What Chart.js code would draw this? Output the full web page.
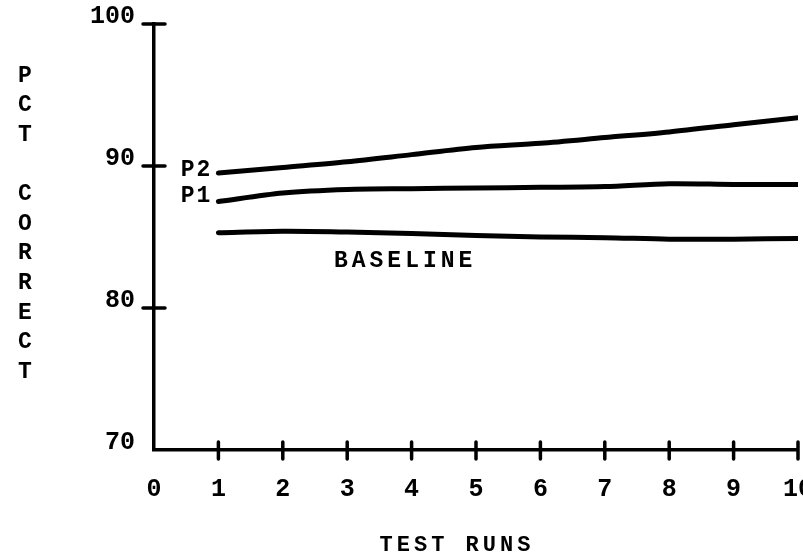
<!DOCTYPE html>
<html>
<head>
<meta charset="utf-8">
<script src="https://cdn.jsdelivr.net/npm/chart.js@4.4.1/dist/chart.umd.min.js"></script>
<style>
    html, body { margin: 0; padding: 0; background: #fff; }
    #wrap { width: 803px; height: 558px; position: relative; }
</style>
</head>
<body>
<div id="wrap"><canvas id="pctChart"></canvas></div>
<script>
// data
const runs = [1, 2, 3, 4, 5, 6, 7, 8, 9, 10];
const p2 = [89.5, 89.9, 90.3, 90.8, 91.3, 91.6, 92.0, 92.4, 92.9, 93.4];
const p1 = [87.5, 88.1, 88.35, 88.4, 88.45, 88.5, 88.55, 88.75, 88.7, 88.7];
const baseline = [85.3, 85.4, 85.35, 85.25, 85.1, 85.0, 84.95, 84.85, 84.85, 84.9];
const seriesNames = ['P2', 'P1', 'BASELINE'];

const xTickLabels = [0, 1, 2, 3, 4, 5, 6, 7, 8, 9, 10];
const yTickLabels = [70, 80, 90, 100];
const xTitle = 'TEST RUNS';
const yTitle = 'PCT CORRECT';

const typeFont = '"Liberation Mono", "Courier New", monospace';

const toPoints = vals => runs.map((r, i) => ({ x: r, y: vals[i] }));

// cross-shaped tick marks on both axes (none at the origin)
const crossTicks = {
    id: 'crossTicks',
    afterDatasetsDraw(chart) {
        const { ctx, scales: { x, y } } = chart;
        const x0 = x.getPixelForValue(xTickLabels[0]);
        const y0 = y.getPixelForValue(yTickLabels[0]);
        ctx.save();
        ctx.strokeStyle = '#000';
        ctx.lineWidth = 3.5;
        ctx.lineCap = 'round';
        ctx.beginPath();
        yTickLabels.slice(1).forEach(v => {
            const py = y.getPixelForValue(v);
            ctx.moveTo(x0 - 11, py);
            ctx.lineTo(x0 + 11, py);
        });
        xTickLabels.slice(1).forEach(v => {
            const px = x.getPixelForValue(v);
            ctx.moveTo(px, y0 - 8);
            ctx.lineTo(px, y0 + 9);
        });
        ctx.stroke();
        ctx.restore();
    }
};

// series names next to the lines + axis titles
const textLabels = {
    id: 'textLabels',
    afterDraw(chart) {
        const { ctx, scales: { x, y } } = chart;
        ctx.save();
        ctx.fillStyle = '#000';
        ctx.font = 'bold 23px ' + typeFont;
        ctx.textBaseline = 'middle';

        // P2 / P1 at the left end of their lines
        ctx.textAlign = 'right';
        ctx.letterSpacing = '2px';
        const xStart = x.getPixelForValue(runs[0]);
        ctx.fillText(seriesNames[0], xStart - 6, y.getPixelForValue(p2[0]) - 3);
        ctx.fillText(seriesNames[1], xStart - 6, y.getPixelForValue(p1[0]) - 5);

        // BASELINE under its line
        ctx.textAlign = 'center';
        ctx.letterSpacing = '4px';
        ctx.fillText(seriesNames[2], x.getPixelForValue(3.9), y.getPixelForValue(baseline[3]) + 28);

        // x title
        ctx.font = 'bold 22px ' + typeFont;
        ctx.letterSpacing = '4px';
        ctx.fillText(xTitle, 457, 545);

        // y title, stacked letters
        ctx.letterSpacing = '0px';
        ctx.font = 'bold 23px ' + typeFont;
        [...yTitle].forEach((ch, i) => {
            ctx.fillText(ch, 25, 76 + i * 29.6);
        });
        ctx.restore();
    }
};

new Chart(document.getElementById('pctChart'), {
    type: 'line',
    data: {
        datasets: [
            { label: seriesNames[0], data: toPoints(p2) },
            { label: seriesNames[1], data: toPoints(p1) },
            { label: seriesNames[2], data: toPoints(baseline) }
        ]
    },
    options: {
        responsive: true,
        maintainAspectRatio: false,
        animation: false,
        layout: { padding: { top: 24, right: 5, left: 0, bottom: 0 } },
        elements: {
            line: { borderColor: '#000', borderWidth: 5, borderCapStyle: 'round', tension: 0.3 },
            point: { radius: 0, hoverRadius: 0 }
        },
        plugins: {
            legend: { display: false },
            tooltip: { enabled: false }
        },
        scales: {
            x: {
                type: 'linear',
                min: 0,
                max: 10,
                afterBuildTicks: s => { s.ticks = xTickLabels.map(v => ({ value: v })); },
                afterFit: s => { s.height = 108; s.paddingLeft = 0; s.paddingRight = 0; },
                grid: { display: false, drawTicks: false },
                border: { display: true, color: '#000', width: 3.5 },
                ticks: {
                    color: '#000',
                    padding: 25,
                    maxRotation: 0,
                    autoSkip: false,
                    font: { family: typeFont, size: 25, weight: 'bold' }
                }
            },
            y: {
                min: 70,
                max: 100,
                afterBuildTicks: s => { s.ticks = yTickLabels.map(v => ({ value: v })); },
                afterFit: s => { s.width = 154; s.paddingTop = 0; s.paddingBottom = 0; },
                grid: { display: false, drawTicks: false },
                border: { display: true, color: '#000', width: 3.5 },
                ticks: {
                    color: '#000',
                    padding: 19,
                    labelOffset: -7,
                    font: { family: typeFont, size: 25, weight: 'bold' }
                }
            }
        }
    },
    plugins: [crossTicks, textLabels]
});
</script>
</body>
</html>
